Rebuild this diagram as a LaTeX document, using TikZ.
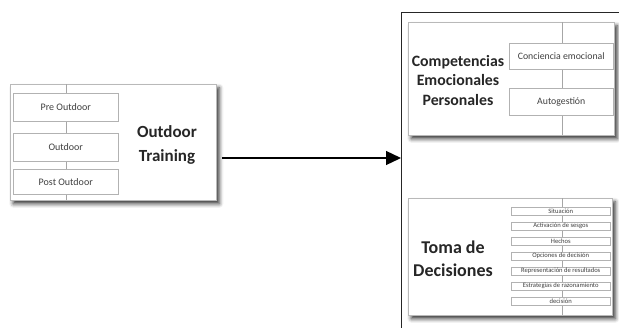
\documentclass[tikz,border=0pt]{standalone}
\usepackage{fontspec}
\setmainfont{Carlito}
\usetikzlibrary{shadows.blur,arrows.meta,positioning}

\tikzset{
  groupbox/.style={draw=gray!55, line width=0.6pt, fill=white, inner sep=0pt,
    blur shadow={shadow xshift=3pt, shadow yshift=-3.5pt, shadow blur radius=4pt,
      shadow opacity=80}},
  spine/.style={draw=gray!70, line width=0.5pt},
  itembox/.style={draw=gray!60, line width=0.5pt, fill=white, inner sep=0pt},
  title/.style={font=\bfseries, align=center, text=black!85, inner sep=0pt},
  frame/.style={draw=black!85, line width=1pt, inner sep=0pt},
  flow/.style={draw=black, line width=1.3pt, -{Triangle[length=15pt,width=14pt]}},
}

\begin{document}
\begin{tikzpicture}[x=1pt, y=-1pt]
\useasboundingbox (0,0) rectangle (619,327);

% ---------- Outdoor Training ----------
\node[groupbox, anchor=north west, minimum width=206pt, minimum height=116pt] (L) at (10,84) {};
\draw[spine] (66,84) -- (66,200);
\node[itembox, anchor=north west, minimum width=105pt, minimum height=28pt,
      font=\fontsize{10}{11}\selectfont, text=black!75] (pre) at (13,93) {Pre Outdoor};
\node[itembox, anchor=north west, minimum width=105pt, minimum height=28pt,
      font=\fontsize{10}{11}\selectfont, text=black!75] (out) at (13,133) {Outdoor};
\node[itembox, anchor=north west, minimum width=105pt, minimum height=25pt,
      font=\fontsize{10}{11}\selectfont, text=black!75] (post) at (13,169) {Post Outdoor};
\node[title, font=\fontsize{17}{24}\bfseries] (lt) at (167,145) {Outdoor\\Training};

% ---------- right frame ----------
\node[frame, anchor=north west, minimum width=240pt, minimum height=330pt] (F) at (401,12) {};

% ---------- arrow ----------
\coordinate (a0) at (222,158);
\draw[flow] (a0) -- (F.west |- a0);

% ---------- Competencias Emocionales Personales ----------
\node[groupbox, anchor=north west, minimum width=206pt, minimum height=113pt] (T) at (408,22) {};
\draw[spine] (562,22) -- (562,135);
\node[itembox, anchor=north west, minimum width=104pt, minimum height=26pt,
      font=\fontsize{9.8}{10}\selectfont, text=black!75] (ce) at (509,43) {Conciencia emocional};
\node[itembox, anchor=north west, minimum width=104pt, minimum height=27pt,
      font=\fontsize{9.8}{10}\selectfont, text=black!75] (ag) at (509,88) {Autogestión};
\node[title, font=\fontsize{15.8}{19.5}\bfseries] (tt) at (458,80.5) {Competencias\\Emocionales\\Personales};

% ---------- Toma de Decisiones ----------
\node[groupbox, anchor=north west, minimum width=204pt, minimum height=117pt] (B) at (408,198) {};
\draw[spine] (562,198) -- (562,315);
\foreach \t [count=\i from 0] in {Situación, Activación de sesgos, Hechos,
    Opciones de decisión, Representación de resultados,
    Estrategias de razonamiento, decisión}{
  \node[itembox, anchor=north west, minimum width=99pt, minimum height=8.5pt,
        font=\fontsize{6.6}{7}\selectfont, text=black!75] (d\i) at (511,{206.5+15*\i}) {\t};
}
\node[title, font=\fontsize{18}{23}\bfseries] (bt) at (453,258.5) {Toma de\\Decisiones};
\end{tikzpicture}
\end{document}
